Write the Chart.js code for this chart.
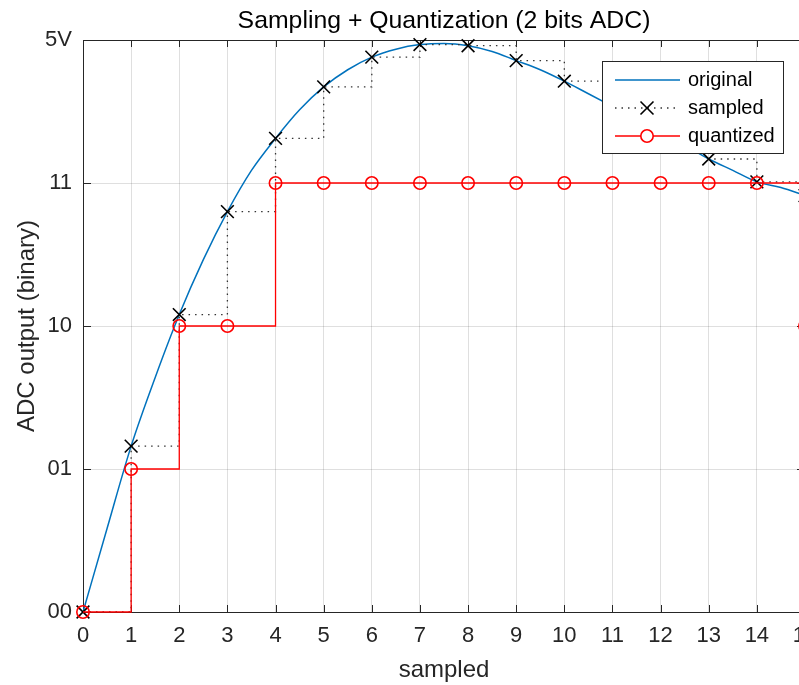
<!DOCTYPE html>
<html>
<head>
<meta charset="utf-8">
<script src="https://cdn.jsdelivr.net/npm/chart.js@4.4.0/dist/chart.umd.min.js"></script>
<style>
  html, body { margin: 0; padding: 0; overflow: hidden; background: #fff; }
  canvas { display: block; }
</style>
</head>
<body>
<canvas id="adcChart" width="830" height="685"></canvas>
<script>
// sample numbers on the x axis
const sampleIdx = [0, 1, 2, 3, 4, 5, 6, 7, 8, 9, 10, 11, 12, 13, 14, 15];
// sampled voltage (V) and 2-bit quantized level
const sampledVals = [0, 1.45, 2.60, 3.50, 4.14, 4.59, 4.85, 4.96, 4.95, 4.82, 4.64, 4.42, 4.19, 3.96, 3.76, 3.64];
const quantizedVals = [0, 1.25, 2.5, 2.5, 3.75, 3.75, 3.75, 3.75, 3.75, 3.75, 3.75, 3.75, 3.75, 3.75, 3.75, 2.5];
// original signal
const originalX = [0, 0.5, 1, 1.5, 2, 2.5, 3, 3.5, 4, 4.5, 5, 5.5, 6, 6.5, 7, 7.5, 8, 8.5, 9, 9.5, 10, 10.5, 11, 11.5, 12, 12.5, 13, 13.5, 14, 14.5, 15];
const originalVals = [0, 0.73, 1.45, 2.05, 2.60, 3.08, 3.50, 3.86, 4.14, 4.39, 4.59, 4.74, 4.85, 4.92, 4.96, 4.97, 4.95, 4.90, 4.82, 4.74, 4.64, 4.53, 4.42, 4.31, 4.19, 4.08, 3.96, 3.86, 3.76, 3.71, 3.64];
// y ticks: ADC codes
const yTickValues = [0, 1.25, 2.5, 3.75, 5];
const yTickLabels = ['00', '01', '10', '11', '5V'];

const axisColor = '#262626';
Chart.defaults.font.family = "'Liberation Sans', Arial, sans-serif";
Chart.defaults.color = axisColor;

const pts = (xs, ys) => xs.map((x, i) => ({ x: x, y: ys[i] }));

// matlab style box with inward ticks
const axesBox = {
  id: 'axesBox',
  beforeDatasetsDraw(chart) {
    const { ctx, chartArea: a, scales: { x, y } } = chart;
    ctx.save();
    ctx.strokeStyle = axisColor;
    ctx.lineWidth = 1;
    ctx.beginPath();
    x.ticks.forEach(t => {
      const px = Math.round(x.getPixelForValue(t.value)) + 0.5;
      ctx.moveTo(px, a.bottom); ctx.lineTo(px, a.bottom - 7);
      ctx.moveTo(px, a.top); ctx.lineTo(px, a.top + 7);
    });
    y.ticks.forEach(t => {
      const py = Math.round(y.getPixelForValue(t.value)) + 0.5;
      ctx.moveTo(a.left, py); ctx.lineTo(a.left + 8, py);
      ctx.moveTo(a.right, py); ctx.lineTo(a.right - 8, py);
    });
    ctx.stroke();
    ctx.strokeRect(Math.round(a.left) + 0.5, Math.round(a.top) + 0.5, a.right - a.left, a.bottom - a.top);
    ctx.restore();
  }
};

// legend box inside the axes, top right
const boxLegend = {
  id: 'boxLegend',
  afterDatasetsDraw(chart) {
    const { ctx, chartArea: a } = chart;
    const bx = a.right - 203, by = a.top + 21, bw = 181, bh = 92;
    ctx.save();
    ctx.fillStyle = '#fff';
    ctx.fillRect(bx, by, bw, bh);
    ctx.strokeStyle = axisColor;
    ctx.lineWidth = 1;
    ctx.strokeRect(bx + 0.5, by + 0.5, bw, bh);

    const x0 = bx + 13, x1 = bx + 78, xm = bx + 45;
    const rows = [by + 19, by + 47, by + 75];
    chart.data.datasets.forEach((ds, i) => {
      const ry = rows[i];
      ctx.strokeStyle = ds.borderColor;
      ctx.lineWidth = ds.borderWidth;
      ctx.setLineDash(ds.borderDash || []);
      ctx.beginPath();
      ctx.moveTo(x0, ry); ctx.lineTo(x1, ry);
      ctx.stroke();
      ctx.setLineDash([]);
      if (ds.pointStyle === 'crossRot') {
        const r = 6.5;
        ctx.strokeStyle = ds.pointBorderColor;
        ctx.lineWidth = ds.pointBorderWidth;
        ctx.beginPath();
        ctx.moveTo(xm - r, ry - r); ctx.lineTo(xm + r, ry + r);
        ctx.moveTo(xm - r, ry + r); ctx.lineTo(xm + r, ry - r);
        ctx.stroke();
      } else if (ds.pointStyle === 'circle') {
        ctx.strokeStyle = ds.pointBorderColor;
        ctx.lineWidth = ds.pointBorderWidth;
        ctx.fillStyle = '#fff';
        ctx.beginPath();
        ctx.arc(xm, ry, ds.pointRadius, 0, Math.PI * 2);
        ctx.fill();
        ctx.stroke();
      }
      ctx.fillStyle = '#000';
      ctx.font = "20px 'Liberation Sans', Arial, sans-serif";
      ctx.textAlign = 'left';
      ctx.textBaseline = 'middle';
      ctx.fillText(ds.label, bx + 86, ry);
    });
    ctx.restore();
  }
};

new Chart(document.getElementById('adcChart'), {
  type: 'line',
  data: {
    datasets: [{
      label: 'original',
      data: pts(originalX, originalVals),
      borderColor: '#0072BD',
      borderWidth: 1.5,
      pointRadius: 0,
      cubicInterpolationMode: 'monotone',
      order: 3
    }, {
      label: 'sampled',
      data: pts(sampleIdx, sampledVals),
      borderColor: '#333333',
      borderWidth: 1.3,
      borderDash: [1.5, 5],
      stepped: 'before',
      pointStyle: 'crossRot',
      pointRadius: 9,
      pointBorderColor: '#000',
      pointBorderWidth: 1.6,
      pointBackgroundColor: 'rgba(0,0,0,0)',
      clip: false,
      order: 2
    }, {
      label: 'quantized',
      data: pts(sampleIdx, quantizedVals),
      borderColor: '#FF0000',
      borderWidth: 1.3,
      stepped: 'before',
      pointStyle: 'circle',
      pointRadius: 6.2,
      pointBorderColor: '#FF0000',
      pointBorderWidth: 1.6,
      pointBackgroundColor: 'rgba(0,0,0,0)',
      clip: false,
      order: 1
    }]
  },
  options: {
    responsive: false,
    animation: false,
    layout: { padding: { left: 0, right: 25, top: 0, bottom: 0 } },
    plugins: {
      legend: { display: false },
      tooltip: { enabled: false },
      title: {
        display: true,
        fullSize: false,
        text: 'Sampling + Quantization (2 bits ADC)',
        color: '#000',
        font: { size: 24.8, weight: 'normal' },
        padding: { top: 6, bottom: 4.24 }
      }
    },
    scales: {
      x: {
        type: 'linear',
        min: 0,
        max: 15,
        afterFit(scale) { scale.height = 73; scale.paddingLeft = 0; scale.paddingRight = 0; },
        ticks: { stepSize: 1, autoSkip: false, maxRotation: 0, padding: 11, font: { size: 22 }, color: axisColor },
        grid: { color: 'rgba(38,38,38,0.15)', drawTicks: false },
        border: { display: false },
        title: { display: true, text: 'sampled', font: { size: 24 }, color: axisColor, padding: { top: 0, bottom: 0 } }
      },
      y: {
        min: 0,
        max: 5,
        afterFit(scale) { scale.width = 83; scale.paddingTop = 0; scale.paddingBottom = 0; },
        afterBuildTicks(scale) { scale.ticks = yTickValues.map(v => ({ value: v })); },
        ticks: {
          padding: 11,
          font: { size: 22 },
          color: axisColor,
          callback: (v) => yTickLabels[yTickValues.indexOf(v)]
        },
        grid: { color: 'rgba(38,38,38,0.15)', drawTicks: false },
        border: { display: false },
        title: { display: true, text: 'ADC output (binary)', font: { size: 24 }, color: axisColor, padding: { top: 13, bottom: 0 } }
      }
    }
  },
  plugins: [axesBox, boxLegend]
});
</script>
</body>
</html>
